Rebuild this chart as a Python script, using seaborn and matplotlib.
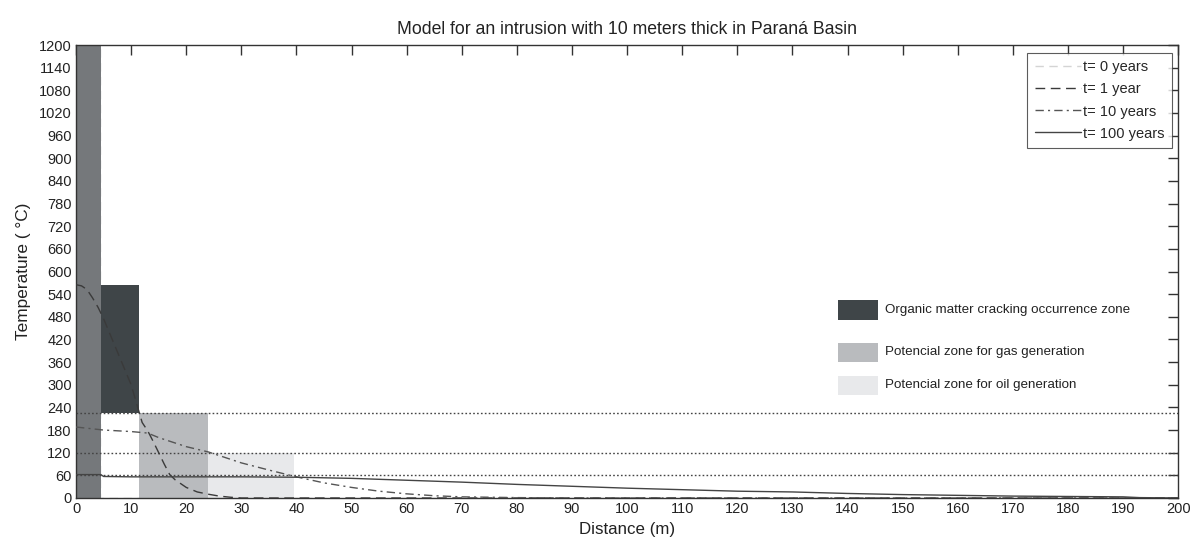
import numpy as np
import pandas as pd
import matplotlib
matplotlib.use("Agg")
import matplotlib.pyplot as plt
from matplotlib.patches import Rectangle
from matplotlib.lines import Line2D
import seaborn as sns

# Temperature profiles (distance in m, temperature in degC)
dist_t0 = [0, 4.3, 4.3, 200]
temp_t0 = [1200, 1200, 0, 0]

dist_t1 = [0, 1, 2, 3, 4, 5, 6, 7, 8, 9, 10, 11, 12, 13, 14, 15, 16, 17, 18, 19, 20, 22, 24, 26, 28, 30, 200]
temp_t1 = [565, 562, 552, 530, 505, 475, 440, 405, 370, 335, 300, 250, 200, 178, 150, 120, 90, 62, 48, 38, 28, 16, 10, 5, 2, 0, 0]

dist_t10 = [0, 5, 10, 13, 15, 20, 24, 30, 35, 40, 45, 50, 55, 60, 65, 70, 80, 90, 200]
temp_t10 = [188, 180, 176, 172, 160, 136, 122, 93, 74, 56, 40, 28, 18, 11, 6, 3, 1, 0, 0]

dist_t100 = [0, 4.5, 5, 10, 20, 30, 40, 50, 60, 70, 80, 90, 100, 110, 120, 130, 140, 150, 160, 170, 180, 190, 193, 200]
temp_t100 = [62, 62, 57, 56, 56, 56, 55, 52, 47, 42, 36, 31, 26, 22, 18, 16, 12, 9, 7, 5, 4, 3, 1, 0]

series_labels = ["t= 0 years", "t= 1 year", "t= 10 years", "t= 100 years"]

# Zones: (x_start, x_end, T_bottom, T_top)
intrusion_zone = (0, 4.5, 0, 1200)
cracking_zone = (4.5, 11.5, 225, 565)
gas_zone = (11.5, 24, 0, 225)
oil_zone = (24, 39.5, 0, 120)
zone_labels = ["Organic matter cracking occurrence zone",
               "Potencial zone for gas generation",
               "Potencial zone for oil generation"]

threshold_temps = [225, 120, 60]

sns.set_theme(style="white")
plt.rcParams["font.family"] = ["Liberation Sans", "DejaVu Sans"]

fig = plt.figure(figsize=(12.01, 5.47), dpi=100)
ax = fig.add_axes([0.0633, 0.0896, 0.9177, 0.8281])

c_intr = "#75787b"
c_crack = "#3f4548"
c_gas = "#b9bbbe"
c_oil = "#e8e9eb"

for (x0, x1, y0, y1), col in zip([intrusion_zone, cracking_zone, gas_zone, oil_zone],
                                 [c_intr, c_crack, c_gas, c_oil]):
    ax.add_patch(Rectangle((x0, y0), x1 - x0, y1 - y0, facecolor=col, edgecolor="none", zorder=1))

for t in threshold_temps:
    ax.axhline(t, color="#444444", lw=1.0, ls=(0, (1.2, 1.6)), zorder=2)

line_col = "#3a3a3a"
frames = [
    (dist_t0, temp_t0, dict(color="#d4d4d4", ls=(0, (6, 4)), lw=1.0, z=0.5)),
    (dist_t1, temp_t1, dict(color=line_col, ls=(0, (7, 4)), lw=1.0, z=3)),
    (dist_t10, temp_t10, dict(color="#555555", ls=(0, (6, 3, 1.5, 3)), lw=1.0, z=3)),
    (dist_t100, temp_t100, dict(color="#444444", ls="-", lw=1.0, z=3)),
]
handles = []
for (xs, ys, st), lab in zip(frames, series_labels):
    df = pd.DataFrame({"d": xs, "T": ys})
    sns.lineplot(data=df, x="d", y="T", ax=ax, sort=False, estimator=None,
                 color=st["color"], linestyle=st["ls"], linewidth=st["lw"], zorder=st["z"])
    handles.append(Line2D([], [], color=st["color"], ls=st["ls"], lw=st["lw"]))

ax.set_xlim(0, 200)
ax.set_ylim(0, 1200)
ax.set_xticks(np.arange(0, 201, 10))
ax.set_yticks(np.arange(0, 1201, 60))
ax.tick_params(axis="both", direction="in", length=7, width=1, color="#333333",
               top=True, right=True, labelsize=10.5, labelcolor="#222222", pad=3)
for s in ax.spines.values():
    s.set_color("#333333")
    s.set_linewidth(1.0)

ax.set_xlabel("Distance (m)", fontsize=12.2, color="#222222", labelpad=4)
ax.set_ylabel("Temperature ( °C)", fontsize=12.4, color="#222222", labelpad=6)
ax.set_title("Model for an intrusion with 10 meters thick in Paraná Basin",
             fontsize=12.7, color="#222222", pad=8)

leg = ax.legend(handles, series_labels, loc="upper right", bbox_to_anchor=(0.9946, 0.982),
                fontsize=10.5, frameon=True, fancybox=False, handlelength=3.2,
                handletextpad=0.15, borderpad=0.5, labelspacing=0.55, borderaxespad=0.0)
leg.get_frame().set_edgecolor("#333333")
leg.get_frame().set_linewidth(0.8)

# Zone key drawn in axes coordinates
zone_rows = [(0.415, c_crack), (0.322, c_gas), (0.249, c_oil)]
for (yc, col), lab in zip(zone_rows, zone_labels):
    ax.add_patch(Rectangle((0.691, yc - 0.021), 0.0365, 0.042, transform=ax.transAxes,
                           facecolor=col, edgecolor="none", zorder=4))
    ax.text(0.734, yc, lab, transform=ax.transAxes, va="center", ha="left",
            fontsize=9.6, color="#222222")

fig.savefig("out.png", dpi=100)
